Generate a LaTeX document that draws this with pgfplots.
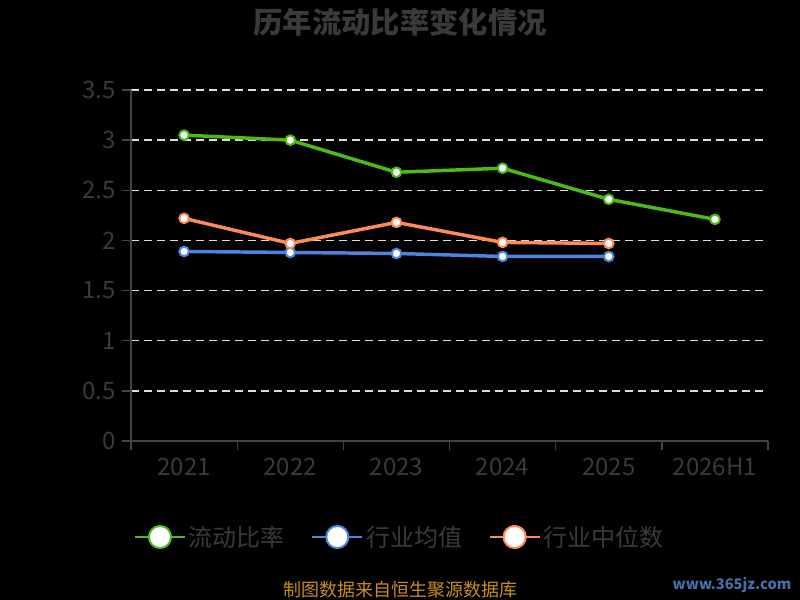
\documentclass[border=0pt]{standalone}
\usepackage{fontspec}
\setmainfont{Noto Sans CJK SC}
\usepackage{pgfplots}
\pgfplotsset{compat=1.18}
\definecolor{cgreen}{HTML}{4CBB17}
\definecolor{cblue}{HTML}{4F83E0}
\definecolor{corange}{HTML}{FF8A55}
\definecolor{ctext}{HTML}{3A3A3A}
\definecolor{caxis}{HTML}{444444}
\definecolor{cgrid}{HTML}{DDDDDD}
\definecolor{cfoot}{HTML}{C88E1E}
\definecolor{cwm}{HTML}{4A6FA8}
\begin{document}
\begin{tikzpicture}
\fill[black] (0,0) rectangle (600pt,450pt);
\node[font=\fontsize{22}{26}\selectfont\bfseries, text=ctext] at (300pt,433.5pt) {历年流动比率变化情况};
\begin{axis}[
  at={(98.25pt,119.25pt)}, anchor=south west,
  width=477.75pt, height=263.25pt, scale only axis,
  xmin=-0.5, xmax=5.5, ymin=0, ymax=3.5,
  axis x line*=bottom, axis y line*=left,
  axis line style={caxis, line width=1pt, -},
  xtick={-0.5,0.5,1.5,2.5,3.5,4.5,5.5},
  xticklabels={2021,2022,2023,2024,2025,2026H1,{}},
  xticklabel style={xshift=39.81pt, yshift=-2pt},
  ytick={0,0.5,1,1.5,2,2.5,3,3.5},
  yticklabel style={xshift=-1pt},
  tick align=outside,
  major tick length=7pt,
  tick style={caxis, line width=1pt},
  ticklabel style={font=\fontsize{18}{20}\selectfont, text=ctext},
  /pgf/number format/assume math mode=true,
  ymajorgrids,
  major grid style={cgrid, line width=1.1pt, dash pattern=on 6pt off 3.75pt},
  legend style={at={(0.4223,-0.2735)}, anchor=center, draw=none, fill=none,
    font=\fontsize{18}{20}\selectfont, text=ctext, legend columns=3,
    /tikz/every even column/.append style={column sep=18pt}},
  legend image code/.code={
    \draw[#1, mark=none, line width=1.5pt] (0pt,0pt) -- (37.5pt,0pt);
    \draw[#1, mark=none, fill=white, line width=1.5pt] (18.75pt,0pt) circle (8.3pt);
  },
]
\addplot[cgreen, line width=2.6pt, mark=*, mark size=3.6pt, mark options={fill=white, draw=cgreen, line width=1.5pt}]
  coordinates {(0,3.05) (1,3.00) (2,2.68) (3,2.72) (4,2.41) (5,2.21)};
\addlegendentry{流动比率}
\addplot[cblue, line width=2.6pt, mark=*, mark size=3.6pt, mark options={fill=white, draw=cblue, line width=1.5pt}]
  coordinates {(0,1.89) (1,1.88) (2,1.87) (3,1.84) (4,1.84)};
\addlegendentry{行业均值}
\addplot[corange, line width=2.6pt, mark=*, mark size=3.6pt, mark options={fill=white, draw=corange, line width=1.5pt}]
  coordinates {(0,2.22) (1,1.97) (2,2.18) (3,1.98) (4,1.97)};
\addlegendentry{行业中位数}
\end{axis}
\node[font=\fontsize{13.5}{15}\selectfont, text=cfoot] at (300pt,7.5pt) {制图数据来自恒生聚源数据库};
\node[font=\fontsize{11}{13}\selectfont\bfseries, text=cwm, inner sep=0pt] at (549pt,11pt) {www.365jz.com};
\pgfresetboundingbox
\useasboundingbox (0,0) rectangle (600pt,450pt);
\end{tikzpicture}
\end{document}
